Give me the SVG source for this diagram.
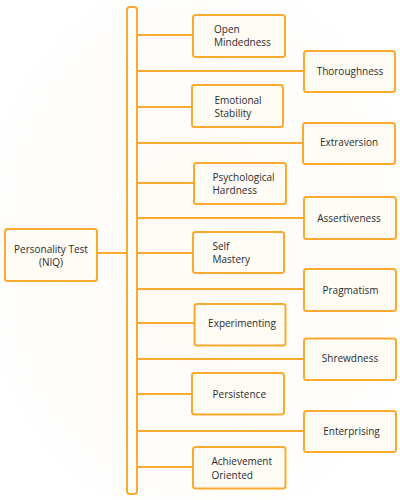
<svg xmlns="http://www.w3.org/2000/svg" width="400" height="500" viewBox="0 0 400 500">
  <defs>
    <radialGradient id="bg" cx="0.5" cy="0.5" r="0.6">
      <stop offset="0" stop-color="#fffbf5"/>
      <stop offset="1" stop-color="#ffffff"/>
    </radialGradient>
    <style>
      .box { fill: #fffbf5; stroke: #fbaa2f; stroke-width: 2; }
      .bar { fill: #ffffff; stroke: #fbaa2f; stroke-width: 2; }
      .link { stroke: #fbaa2f; stroke-width: 2; fill: none; }
      text { font-family: "Open Sans", "Liberation Sans", sans-serif; font-size: 10px; fill: #2b2b2b; }
      .c { text-anchor: middle; }
    </style>
  </defs>

  <rect x="0" y="0" width="400" height="500" fill="url(#bg)"/>

  <!-- connectors -->
  <g id="connectors">
    <line class="link" x1="97" y1="253" x2="127" y2="253"/>
    <line class="link" x1="137" y1="35" x2="193" y2="35"/>
    <line class="link" x1="137" y1="71" x2="304" y2="71"/>
    <line class="link" x1="137" y1="107" x2="192" y2="107"/>
    <line class="link" x1="137" y1="143" x2="303" y2="143"/>
    <line class="link" x1="137" y1="183" x2="194" y2="183"/>
    <line class="link" x1="137" y1="218" x2="304" y2="218"/>
    <line class="link" x1="137" y1="253" x2="193" y2="253"/>
    <line class="link" x1="137" y1="289" x2="304" y2="289"/>
    <line class="link" x1="137" y1="323" x2="194" y2="323"/>
    <line class="link" x1="137" y1="359" x2="304" y2="359"/>
    <line class="link" x1="137" y1="394" x2="192" y2="394"/>
    <line class="link" x1="137" y1="431" x2="304" y2="431"/>
    <line class="link" x1="137" y1="467" x2="193" y2="467"/>
  </g>

  <!-- trunk -->
  <rect id="trunk" class="bar" x="127" y="7" width="10" height="487" rx="3"/>

  <g id="root">
    <rect class="box" x="5" y="229" width="92" height="52" rx="2.5"/>
    <text class="c" x="51" y="253">Personality Test</text>
    <text class="c" x="51" y="266">(NIQ)</text>
  </g>

  <g id="open-mindedness">
    <rect class="box" x="193" y="15" width="92" height="42" rx="2.5"/>
    <text x="214" y="33">Open</text>
    <text x="214" y="46">Mindedness</text>
  </g>

  <g id="thoroughness">
    <rect class="box" x="304" y="51" width="91" height="41" rx="2.5"/>
    <text class="c" x="350" y="74.5">Thoroughness</text>
  </g>

  <g id="emotional-stability">
    <rect class="box" x="192" y="85" width="91" height="42" rx="2.5"/>
    <text x="214.5" y="103.5">Emotional</text>
    <text x="214.5" y="117">Stability</text>
  </g>

  <g id="extraversion">
    <rect class="box" x="303" y="123" width="92" height="41" rx="2.5"/>
    <text class="c" x="349" y="146">Extraversion</text>
  </g>

  <g id="psychological-hardness">
    <rect class="box" x="194" y="163" width="92" height="41" rx="2.5"/>
    <text x="212.5" y="180.5">Psychological</text>
    <text x="212.5" y="193.5">Hardness</text>
  </g>

  <g id="assertiveness">
    <rect class="box" x="304" y="197" width="92" height="42" rx="2.5"/>
    <text class="c" x="349" y="221.5">Assertiveness</text>
  </g>

  <g id="self-mastery">
    <rect class="box" x="193" y="232" width="91" height="41" rx="2.5"/>
    <text x="212.5" y="249.5">Self</text>
    <text x="212.5" y="262.5">Mastery</text>
  </g>

  <g id="pragmatism">
    <rect class="box" x="304" y="269" width="92" height="42" rx="2.5"/>
    <text class="c" x="350.5" y="293.5">Pragmatism</text>
  </g>

  <g id="experimenting">
    <rect class="box" x="194.5" y="304" width="91" height="41.5" rx="2.5"/>
    <text class="c" x="242" y="327">Experimenting</text>
  </g>

  <g id="shrewdness">
    <rect class="box" x="304" y="338.5" width="92" height="41.5" rx="2.5"/>
    <text class="c" x="350" y="362">Shrewdness</text>
  </g>

  <g id="persistence">
    <rect class="box" x="192" y="373" width="92" height="41.5" rx="2.5"/>
    <text x="212.5" y="397.5">Persistence</text>
  </g>

  <g id="enterprising">
    <rect class="box" x="304" y="411" width="92" height="41" rx="2.5"/>
    <text class="c" x="351.5" y="435">Enterprising</text>
  </g>

  <g id="achievement-oriented">
    <rect class="box" x="193" y="447" width="92.5" height="41.5" rx="2.5"/>
    <text x="211.5" y="465">Achievement</text>
    <text x="211.5" y="479">Oriented</text>
  </g>
</svg>
